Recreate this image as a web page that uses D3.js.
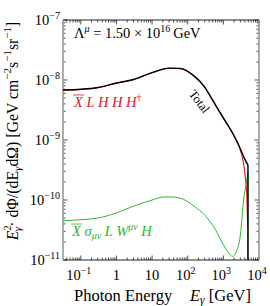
<!DOCTYPE html>
<html>
<head>
<meta charset="utf-8">
<script src="https://cdn.jsdelivr.net/npm/d3@7"></script>
<style>
  body { margin: 0; background: #fff; }
</style>
</head>
<body>
<div id="chart"></div>
<script>
// values (GeV, GeV cm^-2 s^-1 sr^-1)
const totalE = [0.0316, 0.1, 0.3, 1, 3, 10, 30, 60, 150, 300, 500, 1000, 2000, 3000, 4000, 4900, 4900];
const totalV = [6.8e-9, 7.0e-9, 7.5e-9, 8.9e-9, 1.02e-8, 1.33e-8, 1.58e-8, 1.56e-8, 1.17e-8, 7.6e-9, 4.6e-9, 2.33e-9, 1.17e-9, 7.1e-10, 4.8e-10, 3.8e-10, 1e-11];

const redE = [0.0316, 0.1, 0.3, 1, 3, 10, 30, 60, 150, 300, 500, 1000, 2000, 3000, 4000, 4600, 4800];
const redV = [6.75e-9, 6.95e-9, 7.45e-9, 8.84e-9, 1.01e-8, 1.32e-8, 1.57e-8, 1.55e-8, 1.16e-8, 7.55e-9, 4.56e-9, 2.31e-9, 1.16e-9, 6.8e-10, 2.8e-10, 1.0e-10, 3.5e-11];

const greenE = [0.0316, 0.1, 0.3, 1, 3, 10, 20, 30, 60, 150, 300, 600, 1000, 1500, 1800, 2300, 3000, 3700, 4300, 4900, 4900];
const greenV = [4.5e-11, 4.7e-11, 5.0e-11, 6.1e-11, 7.9e-11, 1.0e-10, 1.12e-10, 1.13e-10, 1.08e-10, 7.9e-11, 5.6e-11, 3.2e-11, 1.8e-11, 1.26e-11, 1.15e-11, 1.36e-11, 2.6e-11, 1.0e-10, 1.8e-10, 2.9e-10, 1e-11];

const xDomain = [Math.pow(10, -1.5), 1e4];
const yDomain = [1e-11, 1e-7];
const xMajor = [0.1, 1, 10, 100, 1000, 10000];
const xLabels = [["10", "\u22121"], ["1", ""], ["10", ""], ["10", "2"], ["10", "3"], ["10", "4"]];
const yMajor = [1e-11, 1e-10, 1e-9, 1e-8, 1e-7];
const yLabels = ["\u221211", "\u221210", "\u22129", "\u22128", "\u22127"];

const W = 270, H = 306;
const margin = {top: 20, right: 11, bottom: 46, left: 63};
const w = W - margin.left - margin.right;
const h = H - margin.top - margin.bottom;
const serif = "'Liberation Serif', 'Times New Roman', 'DejaVu Serif', serif";
const fs = 14.5, fsSup = 10;
const fsT = 16.5, fsTSup = 11.5;

const svg = d3.select("#chart").append("svg")
  .attr("width", W).attr("height", H)
  .attr("font-family", serif);
const g = svg.append("g")
  .attr("transform", "translate(" + margin.left + "," + margin.top + ")");

const x = d3.scaleLog().domain(xDomain).range([0, w]);
const y = d3.scaleLog().domain(yDomain).range([h, 0]);

// minor ticks
let xMinor = [];
for (let p = -2; p < 4; p++) for (let k = 2; k <= 9; k++) {
  const v = k * Math.pow(10, p);
  if (v >= xDomain[0] && v <= xDomain[1]) xMinor.push(v);
}
let yMinor = [];
for (let p = -11; p < -7; p++) for (let k = 2; k <= 9; k++) yMinor.push(k * Math.pow(10, p));

const tk = g.append("g").attr("stroke", "#222").attr("stroke-width", 0.8);
xMinor.forEach(v => {
  tk.append("line").attr("x1", x(v)).attr("x2", x(v)).attr("y1", h).attr("y2", h - 2.5);
  tk.append("line").attr("x1", x(v)).attr("x2", x(v)).attr("y1", 0).attr("y2", 2.5);
});
xMajor.forEach(v => {
  tk.append("line").attr("x1", x(v)).attr("x2", x(v)).attr("y1", h).attr("y2", h - 4.5);
  tk.append("line").attr("x1", x(v)).attr("x2", x(v)).attr("y1", 0).attr("y2", 4.5);
});
yMinor.forEach(v => {
  tk.append("line").attr("x1", 0).attr("x2", 2.5).attr("y1", y(v)).attr("y2", y(v));
  tk.append("line").attr("x1", w).attr("x2", w - 2.5).attr("y1", y(v)).attr("y2", y(v));
});
yMajor.forEach(v => {
  tk.append("line").attr("x1", 0).attr("x2", 4.5).attr("y1", y(v)).attr("y2", y(v));
  tk.append("line").attr("x1", w).attr("x2", w - 4.5).attr("y1", y(v)).attr("y2", y(v));
});

// frame
g.append("line").attr("x1", 0).attr("x2", w).attr("y1", 0).attr("y2", 0).attr("stroke", "#222").attr("stroke-width", 1);
g.append("line").attr("x1", 0).attr("x2", w).attr("y1", h).attr("y2", h).attr("stroke", "#222").attr("stroke-width", 1);
g.append("line").attr("x1", 0).attr("x2", 0).attr("y1", 0).attr("y2", h).attr("stroke", "#999").attr("stroke-width", 1.6);
g.append("line").attr("x1", w).attr("x2", w).attr("y1", 0).attr("y2", h).attr("stroke", "#999").attr("stroke-width", 1.6);

// curves
const line = d3.line().x(d => x(d[0])).y(d => y(d[1])).curve(d3.curveMonotoneX);
function path(E, V, color, sw) {
  const pts = d3.zip(E, V);
  const last = pts.length - 1;
  let dstr;
  if (E[last] === E[last - 1]) {
    dstr = line(pts.slice(0, last)) + "L" + x(E[last]) + "," + y(V[last]);
  } else {
    dstr = line(pts);
  }
  g.append("path").attr("d", dstr).attr("fill", "none")
    .attr("stroke", color).attr("stroke-width", sw);
}
path(greenE, greenV, "#2db82d", 1);
path(redE, redV, "#e8141e", 1.1);
path(totalE, totalV, "#000", 1.4);

// tick labels
xMajor.forEach((v, i) => {
  const t = svg.append("text")
    .attr("x", margin.left + x(v) + (xLabels[i][1] ? -2 : 0)).attr("y", margin.top + h + 20)
    .attr("text-anchor", "middle").attr("font-size", fs);
  t.append("tspan").text(xLabels[i][0]);
  if (xLabels[i][1]) t.append("tspan").attr("dy", -6).attr("font-size", fsSup).text(xLabels[i][1]);
});
yMajor.forEach((v, i) => {
  const t = svg.append("text")
    .attr("x", margin.left - 3).attr("y", margin.top + y(v) + 5)
    .attr("text-anchor", "end").attr("font-size", fs);
  t.append("tspan").text("10");
  t.append("tspan").attr("dy", -6).attr("font-size", fsSup).text(yLabels[i]);
});

// annotation: Lambda
const lam = g.append("text").attr("x", 11).attr("y", 18).attr("font-size", fs);
lam.append("tspan").text("\u039B");
lam.append("tspan").attr("dy", -6).attr("font-size", fsSup).attr("font-style", "italic").text("\u03BC");
lam.append("tspan").attr("dy", 6).text(" = 1.50 \u00D7 10");
lam.append("tspan").attr("dy", -6).attr("font-size", fsSup).text("16");
lam.append("tspan").attr("dy", 6).text("\u2009GeV");

// red label
const rl = g.append("text").attr("x", 11).attr("y", 87).attr("font-size", fs)
  .attr("fill", "#e8141e").attr("font-style", "italic");
rl.append("tspan").text("X");
rl.append("tspan").text(" L H H H");
rl.append("tspan").attr("dy", -6).attr("font-size", fsSup).attr("font-style", "normal").text("\u2020");
g.append("line").attr("x1", 10).attr("x2", 21).attr("y1", 75).attr("y2", 75).attr("stroke", "#e8141e").attr("stroke-width", 0.8);

// green label
const gl = g.append("text").attr("x", 9).attr("y", 216).attr("font-size", fs)
  .attr("fill", "#2db82d").attr("font-style", "italic");
gl.append("tspan").text("X");
gl.append("tspan").text(" \u03C3");
gl.append("tspan").attr("dy", 3).attr("font-size", fsSup).text("\u03BC\u03BD");
gl.append("tspan").attr("dy", -3).text(" L W");
gl.append("tspan").attr("dy", -6).attr("font-size", fsSup).text("\u03BC\u03BD");
gl.append("tspan").attr("dy", 6).text(" H");
g.append("line").attr("x1", 8).attr("x2", 19).attr("y1", 204).attr("y2", 204).attr("stroke", "#2db82d").attr("stroke-width", 0.8);

// Total label along the curve
g.append("text").attr("font-size", 12.5).attr("text-anchor", "middle")
  .attr("transform", "translate(" + (196 - margin.left) + "," + (104 - margin.top) + ") rotate(52)")
  .text("Total");

// x axis title
const xt = svg.append("text").attr("y", 301).attr("font-size", fsT);
xt.append("tspan").attr("x", 74).text("Photon Energy");
xt.append("tspan").attr("x", 190).attr("font-style", "italic").text("E");
xt.append("tspan").attr("dy", 3).attr("font-size", fsTSup).attr("font-style", "italic").text("\u03B3");
xt.append("tspan").attr("dy", -3).text(" [GeV]");

// y axis title
const fsY = 15.8, fsYSup = 11;
const yt = svg.append("text").attr("font-size", fsY).attr("text-anchor", "middle")
  .attr("transform", "translate(18," + 131 + ") rotate(-90)");
yt.append("tspan").attr("font-style", "italic").text("E");
yt.append("tspan").attr("dy", -7).attr("font-size", fsYSup).text("2");
yt.append("tspan").attr("dx", -6).attr("dy", 10).attr("font-size", fsYSup).attr("font-style", "italic").text("\u03B3");
yt.append("tspan").attr("dy", -3).text("\u00B7 d\u03A6/(dE");
yt.append("tspan").attr("dy", 3).attr("font-size", fsYSup).attr("font-style", "italic").text("\u03B3");
yt.append("tspan").attr("dy", -3).text("d\u03A9)  [GeV cm");
yt.append("tspan").attr("dy", -7).attr("font-size", fsYSup).text("\u22122");
yt.append("tspan").attr("dy", 7).text("s");
yt.append("tspan").attr("dy", -7).attr("font-size", fsYSup).text("\u22121");
yt.append("tspan").attr("dy", 7).text("sr");
yt.append("tspan").attr("dy", -7).attr("font-size", fsYSup).text("\u22121");
yt.append("tspan").attr("dy", 7).text("]");
</script>
</body>
</html>
